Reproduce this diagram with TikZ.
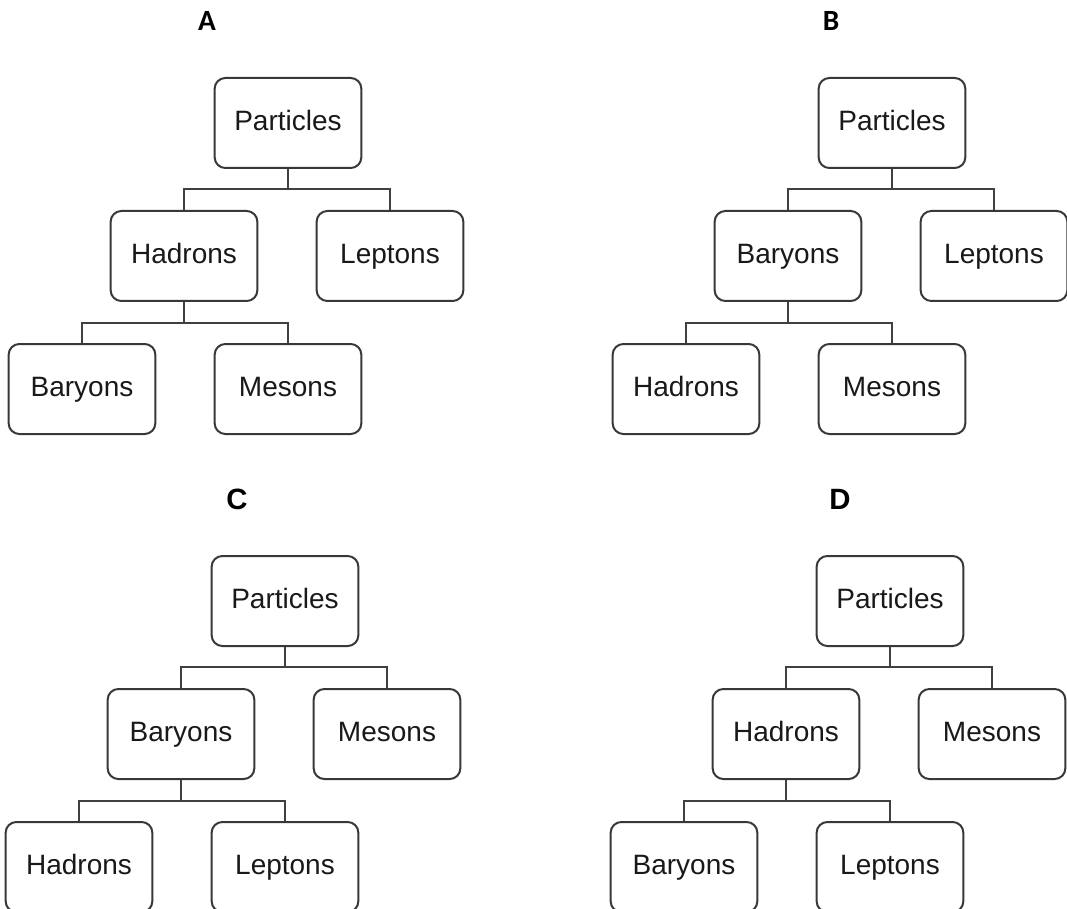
\documentclass[tikz,border=0pt]{standalone}
\usepackage{fontspec}
\setmainfont{Liberation Sans}
\newfontfamily\calfont{Carlito}
\usepackage{tikz}
\usetikzlibrary{positioning}

\begin{document}
\begin{tikzpicture}[x=0.75pt, y=-0.75pt,
    box/.style={draw=black!78, line width=1.5pt, rounded corners=8pt,
        minimum width=110pt, minimum height=67.5pt, fill=white,
        text height=15pt, text depth=4.4pt,
        text=black!90, font=\fontsize{21}{25}\selectfont},
    link/.style={draw=black!75, line width=1.5pt},
    panel/.style={font=\bfseries\fontsize{22}{26}\selectfont}]

\path[use as bounding box, clip] (0,0) rectangle (1067,909);
\fill[white] (0,0) rectangle (1067,909);

% one tree per answer option
\foreach \pan/\cx/\cy/\lx/\lf/\mida/\midb/\lowa/\lowb in {
    A/288/123/207/\calfont/Hadrons/Leptons/Baryons/Mesons,
    B/892/123/831/\calfont/Baryons/Leptons/Hadrons/Mesons,
    C/285/601/237/\relax/Baryons/Mesons/Hadrons/Leptons,
    D/890/601/840/\relax/Hadrons/Mesons/Baryons/Leptons} {
  \node[panel] (lab\pan) at (\lx, \cy-102) {\lf\pan};
  \node[box] (top\pan) at (\cx, \cy) {Particles};
  \node[box] (left\pan) at (\cx-104, \cy+133) {\mida};
  \node[box] (right\pan) at (\cx+102, \cy+133) {\midb};
  \node[box] (lowl\pan) at (\cx-206, \cy+266) {\lowa};
  \node[box] (lowr\pan) at (\cx, \cy+266) {\lowb};

  \draw[link] (top\pan.south) -- ++(0,20) -| (left\pan.north);
  \draw[link] (top\pan.south) -- ++(0,20) -| (right\pan.north);
  \draw[link] (left\pan.south) -- ++(0,21) -| (lowl\pan.north);
  \draw[link] (left\pan.south) -- ++(0,21) -| (lowr\pan.north);
}
\end{tikzpicture}
\end{document}
